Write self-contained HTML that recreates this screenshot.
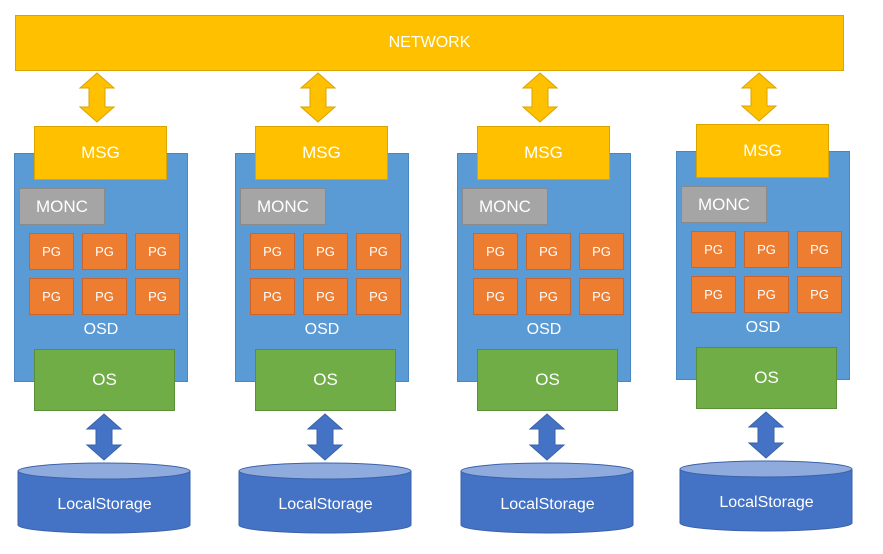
<!DOCTYPE html>
<html><head><meta charset="utf-8"><style>
body{margin:0;width:883px;height:554px;background:#fff;position:relative;overflow:hidden;font-family:"Liberation Sans",sans-serif;color:#fff}
div{position:absolute;box-sizing:border-box;display:flex;align-items:center;justify-content:center}
.net{left:15px;top:15px;width:829px;height:56px;background:#ffc000;border:1px solid #d9a300;font-size:16px}
.col{width:220px;height:554px;display:block}
.osd{left:14px;top:153px;width:174px;height:229px;background:#5b9bd5;border:1px solid #4a87c0;align-items:flex-start;padding-top:167px;font-size:16px}
.msg{left:34px;top:126px;width:133px;height:54px;background:#ffc000;border:1px solid #d9a300;font-size:17px}
.monc{left:19px;top:188px;width:86px;height:37px;background:#a5a5a5;border:1px solid #8a8a8a;font-size:17px}
.pg{width:45px;height:37px;background:#ed7d31;border:1px solid #c9652a;font-size:13px}
.os{left:34px;top:349px;width:141px;height:62px;background:#70ad47;border:1px solid #5a8f38;font-size:17px}
.ls{left:18px;top:477px;width:173px;height:56px;font-size:16px}
svg{position:absolute;left:0;top:0}
</style></head><body>
<div class="net">NETWORK</div>

<div class="col" style="left:0;top:0">
<svg width="220" height="554">
<path d="M97 73 L114 88 L105 88 L105 107 L114 107 L97 122 L80 107 L89 107 L89 88 L80 88 Z" fill="#ffc000" stroke="#d9a300"/>
<path d="M104 414 L121 429 L112 429 L112 445 L121 445 L104 460 L87 445 L96 445 L96 429 L87 429 Z" fill="#4472c4" stroke="#3a62aa"/>
<path d="M18,471 L18,525 A86,8 0 0 0 190,525 L190,471" fill="#4472c4" stroke="#3a62aa"/>
<ellipse cx="104" cy="471" rx="86" ry="8" fill="#8faadc" stroke="#3a62aa"/>
</svg>
<div class="osd">OSD</div><div class="msg">MSG</div><div class="monc">MONC</div>
<div class="pg" style="left:29px;top:233px">PG</div><div class="pg" style="left:82px;top:233px">PG</div><div class="pg" style="left:135px;top:233px">PG</div>
<div class="pg" style="left:29px;top:278px">PG</div><div class="pg" style="left:82px;top:278px">PG</div><div class="pg" style="left:135px;top:278px">PG</div>
<div class="os">OS</div><div class="ls">LocalStorage</div>
</div>

<div class="col" style="left:221px;top:0">
<svg width="220" height="554">
<path d="M97 73 L114 88 L105 88 L105 107 L114 107 L97 122 L80 107 L89 107 L89 88 L80 88 Z" fill="#ffc000" stroke="#d9a300"/>
<path d="M104 414 L121 429 L112 429 L112 445 L121 445 L104 460 L87 445 L96 445 L96 429 L87 429 Z" fill="#4472c4" stroke="#3a62aa"/>
<path d="M18,471 L18,525 A86,8 0 0 0 190,525 L190,471" fill="#4472c4" stroke="#3a62aa"/>
<ellipse cx="104" cy="471" rx="86" ry="8" fill="#8faadc" stroke="#3a62aa"/>
</svg>
<div class="osd">OSD</div><div class="msg">MSG</div><div class="monc">MONC</div>
<div class="pg" style="left:29px;top:233px">PG</div><div class="pg" style="left:82px;top:233px">PG</div><div class="pg" style="left:135px;top:233px">PG</div>
<div class="pg" style="left:29px;top:278px">PG</div><div class="pg" style="left:82px;top:278px">PG</div><div class="pg" style="left:135px;top:278px">PG</div>
<div class="os">OS</div><div class="ls">LocalStorage</div>
</div>

<div class="col" style="left:443px;top:0">
<svg width="220" height="554">
<path d="M97 73 L114 88 L105 88 L105 107 L114 107 L97 122 L80 107 L89 107 L89 88 L80 88 Z" fill="#ffc000" stroke="#d9a300"/>
<path d="M104 414 L121 429 L112 429 L112 445 L121 445 L104 460 L87 445 L96 445 L96 429 L87 429 Z" fill="#4472c4" stroke="#3a62aa"/>
<path d="M18,471 L18,525 A86,8 0 0 0 190,525 L190,471" fill="#4472c4" stroke="#3a62aa"/>
<ellipse cx="104" cy="471" rx="86" ry="8" fill="#8faadc" stroke="#3a62aa"/>
</svg>
<div class="osd">OSD</div><div class="msg">MSG</div><div class="monc">MONC</div>
<div class="pg" style="left:30px;top:233px">PG</div><div class="pg" style="left:83px;top:233px">PG</div><div class="pg" style="left:136px;top:233px">PG</div>
<div class="pg" style="left:30px;top:278px">PG</div><div class="pg" style="left:83px;top:278px">PG</div><div class="pg" style="left:136px;top:278px">PG</div>
<div class="os">OS</div><div class="ls">LocalStorage</div>
</div>

<div class="col" style="left:662px;top:-2px">
<svg width="220" height="554">
<path d="M97 75 L114 90 L105 90 L105 108 L114 108 L97 123 L80 108 L89 108 L89 90 L80 90 Z" fill="#ffc000" stroke="#d9a300"/>
<path d="M104 414 L121 429 L112 429 L112 445 L121 445 L104 460 L87 445 L96 445 L96 429 L87 429 Z" fill="#4472c4" stroke="#3a62aa"/>
<path d="M18,471 L18,525 A86,8 0 0 0 190,525 L190,471" fill="#4472c4" stroke="#3a62aa"/>
<ellipse cx="104" cy="471" rx="86" ry="8" fill="#8faadc" stroke="#3a62aa"/>
</svg>
<div class="osd">OSD</div><div class="msg">MSG</div><div class="monc">MONC</div>
<div class="pg" style="left:29px;top:233px">PG</div><div class="pg" style="left:82px;top:233px">PG</div><div class="pg" style="left:135px;top:233px">PG</div>
<div class="pg" style="left:29px;top:278px">PG</div><div class="pg" style="left:82px;top:278px">PG</div><div class="pg" style="left:135px;top:278px">PG</div>
<div class="os">OS</div><div class="ls">LocalStorage</div>
</div>
</body></html>
